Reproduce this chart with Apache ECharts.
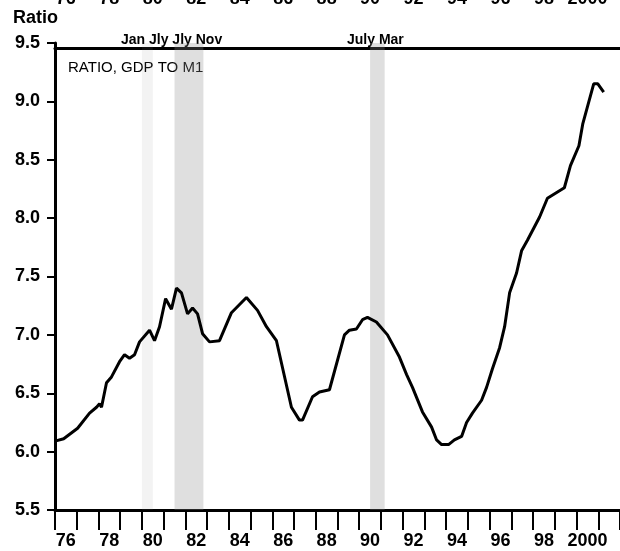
<!DOCTYPE html>
<html>
<head>
<meta charset="utf-8">
<script src="https://cdn.jsdelivr.net/npm/echarts@6/dist/echarts.min.js"></script>
<style>
  html, body { margin: 0; padding: 0; background: #fff; }
  #main { width: 620px; height: 551px; }
</style>
</head>
<body>
<div id="main"></div>
<script>
// 年份刻度（类目轴，用于刻度线和标签）
var yearCats = [];
for (var yr = 1976; yr <= 2001; yr++) yearCats.push(yr);

// GDP / M1 比率
var years = [1976.0, 1976.4, 1977.04, 1977.59, 1977.91, 1978.05, 1978.14, 1978.37, 1978.6, 1978.97,
    1979.2, 1979.43, 1979.66, 1979.89, 1980.35, 1980.58, 1980.81, 1981.09, 1981.36, 1981.59,
    1981.82, 1982.1, 1982.33, 1982.56, 1982.79, 1983.11, 1983.57, 1984.12, 1984.81, 1985.32,
    1985.73, 1986.19, 1986.88, 1987.25, 1987.39, 1987.85, 1988.17, 1988.63, 1989.32, 1989.55,
    1989.87, 1990.15, 1990.38, 1990.79, 1991.3, 1991.85, 1992.18, 1992.45, 1992.91, 1993.33,
    1993.56, 1993.79, 1994.11, 1994.38, 1994.71, 1994.94, 1995.21, 1995.63, 1995.86, 1996.13,
    1996.46, 1996.69, 1996.92, 1997.24, 1997.47, 1997.74, 1998.3, 1998.66, 1999.44, 1999.72,
    2000.11, 2000.29, 2000.79, 2000.98, 2001.25];
var ratio = [6.09, 6.11, 6.20, 6.33, 6.38, 6.41, 6.38, 6.59, 6.64, 6.77,
    6.83, 6.80, 6.83, 6.94, 7.04, 6.95, 7.07, 7.31, 7.22, 7.40,
    7.36, 7.18, 7.23, 7.18, 7.01, 6.94, 6.95, 7.19, 7.32, 7.21,
    7.07, 6.95, 6.38, 6.27, 6.27, 6.47, 6.51, 6.53, 7.00, 7.04,
    7.05, 7.13, 7.15, 7.11, 7.00, 6.81, 6.66, 6.55, 6.34, 6.21,
    6.10, 6.06, 6.06, 6.10, 6.13, 6.25, 6.33, 6.44, 6.55, 6.71,
    6.89, 7.07, 7.36, 7.53, 7.72, 7.81, 8.01, 8.17, 8.26, 8.45,
    8.62, 8.81, 9.15, 9.15, 9.08];

// 衰退期（开始, 结束, 透明度）
var recessionStart = [1980.0, 1981.5, 1990.5];
var recessionEnd = [1980.5, 1982.83, 1991.17];
var recessionShade = [0.1, 0.28, 0.28];

var font = '"Liberation Sans", Arial, sans-serif';

function yearLabel(v) {
    var y = parseInt(v, 10);
    return y >= 2000 ? String(y) : String(y % 100);
}

var lineData = years.map(function (y, i) { return [y, ratio[i]]; });
var areas = recessionStart.map(function (s, i) {
    return [
        { xAxis: s, itemStyle: { color: 'rgba(140,140,140,' + recessionShade[i] + ')' } },
        { xAxis: recessionEnd[i] }
    ];
});

var myChart = echarts.init(document.getElementById('main'));

var option = {
    animation: false,
    backgroundColor: '#fff',
    grid: { left: 55, right: 0, top: 43, bottom: 41, containLabel: false, outerBoundsMode: 'none' },
    xAxis: [
        {
            type: 'category',
            position: 'bottom',
            data: yearCats,
            boundaryGap: true,
            axisLine: { lineStyle: { color: '#000', width: 3 } },
            axisTick: { show: true, interval: 0, length: 20, lineStyle: { color: '#000', width: 2 } },
            axisLabel: {
                interval: 1, margin: 22, color: '#000',
                fontFamily: font, fontWeight: 'bold', fontSize: 18,
                formatter: yearLabel
            },
            splitLine: { show: false }
        },
        {
            type: 'value',
            min: 1976,
            max: 2002,
            show: false
        },
        {
            type: 'category',
            position: 'top',
            offset: -5,
            data: yearCats,
            boundaryGap: true,
            axisLine: { lineStyle: { color: '#000', width: 3 } },
            axisTick: { show: false },
            axisLabel: {
                interval: 1, margin: 40, color: '#000',
                fontFamily: font, fontWeight: 'bold', fontSize: 18,
                formatter: yearLabel
            },
            splitLine: { show: false }
        }
    ],
    yAxis: {
        type: 'value',
        min: 5.5,
        max: 9.5,
        interval: 0.5,
        axisLine: { show: true, lineStyle: { color: '#000', width: 3 } },
        axisTick: { show: true, length: 8, lineStyle: { color: '#000', width: 2 } },
        axisLabel: {
            margin: 15, color: '#000',
            fontFamily: font, fontWeight: 'bold', fontSize: 18,
            formatter: function (v) { return v.toFixed(1); }
        },
        splitLine: { show: false }
    },
    graphic: [
        {
            type: 'text', left: 13, top: 9,
            style: { text: 'Ratio', fill: '#000', font: 'bold 18px ' + font }
        },
        {
            type: 'text', left: 68, top: 60,
            style: { text: 'RATIO, GDP TO M1', fill: '#000', font: '15px ' + font }
        },
        {
            type: 'text', left: 121, top: 33,
            style: { text: 'Jan Jly Jly Nov', fill: '#000', font: 'bold 14px ' + font }
        },
        {
            type: 'text', left: 347, top: 33,
            style: { text: 'July Mar', fill: '#000', font: 'bold 14px ' + font }
        }
    ],
    series: [
        {
            type: 'line',
            xAxisIndex: 1,
            data: lineData,
            showSymbol: false,
            smooth: false,
            lineStyle: { color: '#000', width: 3 },
            markArea: {
                silent: true,
                data: areas
            }
        }
    ]
};

option && myChart.setOption(option);
</script>
</body>
</html>
